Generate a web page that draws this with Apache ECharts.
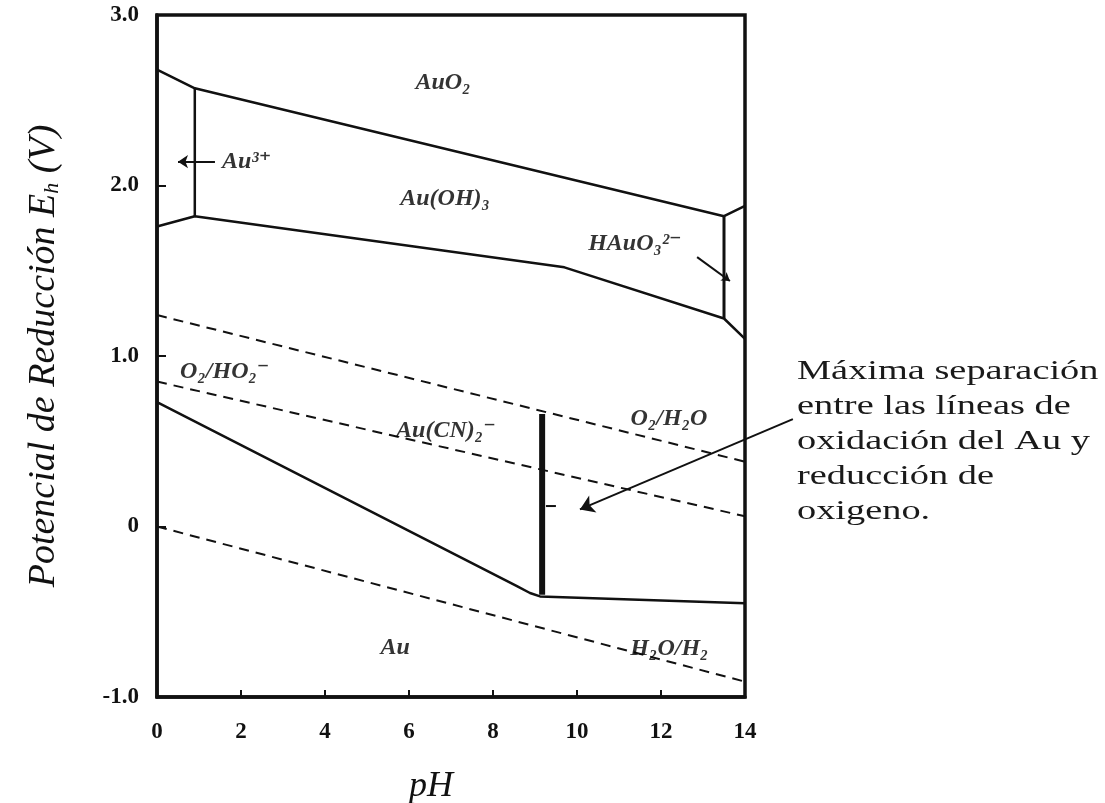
<!DOCTYPE html>
<html><head><meta charset="utf-8">
<script src="https://cdn.jsdelivr.net/npm/echarts@6/dist/echarts.min.js"></script>
<style>html,body{margin:0;padding:0;background:#fff}#c{width:1105px;height:803px}</style>
</head><body><div id="c"></div>
<script>
// ---- axes ----
const pHMin = 0, pHMax = 14, pHStep = 2;
const eMin = -1, eMax = 3, eStep = 1;
const eTickLabels = {'-1': '-1.0', '0': '0', '1': '1.0', '2': '2.0', '3': '3.0'};

// ---- boundary lines (pH, Eh) ----
const auO2Upper   = [[0, 2.68], [0.9, 2.57], [13.5, 1.82], [14, 1.88]];
const au3Divider  = [[0.9, 2.57], [0.9, 1.82]];
const auOxidation = [[0, 1.76], [0.9, 1.82], [9.7, 1.52], [13.5, 1.22], [14, 1.10]];
const hauo3Divider = [[13.5, 1.82], [13.5, 1.22]];
const auCN2       = [[0, 0.73], [8.57, -0.35], [8.88, -0.39], [9.12, -0.41], [14, -0.45]];
const maxSeparation = [[9.17, 0.66], [9.17, -0.40]];

// ---- water / oxygen lines (dashed) ----
const o2H2O = [[0, 1.24], [14, 0.38]];
const o2HO2 = [[0, 0.85], [14, 0.06]];
const h2oH2 = [[0, 0.00], [14, -0.91]];
const shortDash = [[9.26, 0.12], [9.57, 0.12]];

// ---- arrows ----
const arrowMax   = [[15.14, 0.63], [10.07, 0.10]];
const arrowAu3   = [[1.38, 2.14], [0.5, 2.14]];
const arrowHAuO3 = [[12.86, 1.58], [13.64, 1.44]];

// ---- region labels ----
const centerLabels = ['AuO₂', 'Au(OH)₃', 'HAuO₃²⁻', 'Au(CN)₂⁻', 'O₂/H₂O', 'Au', 'H₂O/H₂'];
const centerLabelPos = [[6.81, 2.60], [6.86, 1.92], [11.38, 1.66], [6.88, 0.56], [12.19, 0.63], [5.67, -0.71], [12.2, -0.72]];
const leftLabels = ['Au³⁺', 'O₂/HO₂⁻'];
const leftLabelPos = [[1.55, 2.14], [0.55, 0.91]];

const noteText = 'Máxima separación\nentre las líneas de\noxidación del Au y\nreducción de\noxigeno.';

const SERIF = '"Liberation Serif", "DejaVu Serif", serif';
const INK = '#111';

function solid(data, w) {
  return {type: 'line', data: data, symbol: 'none', silent: true, animation: false,
    lineStyle: {color: INK, width: w, type: 'solid'}, z: 3};
}
function dashed(data) {
  return {type: 'line', data: data, symbol: 'none', silent: true, animation: false,
    lineStyle: {color: INK, width: 2, type: [10, 7]}, z: 3};
}
function arrow(data, size) {
  return {type: 'lines', coordinateSystem: 'cartesian2d', clip: false, silent: true, animation: false,
    symbol: ['none', 'arrow'], symbolSize: size,
    lineStyle: {color: INK, width: 2, opacity: 1}, data: [{coords: data}], z: 4};
}
const labelStyle = {color: '#000', fontFamily: SERIF, fontStyle: 'italic', fontWeight: 'bold', fontSize: 24};

const chart = echarts.init(document.getElementById('c'), null, {renderer: 'canvas'});
chart.setOption({
  backgroundColor: '#fff',
  animation: false,
  grid: {left: 157, right: 360, top: 15, bottom: 106, containLabel: false, outerBoundsMode: 'none',
    show: true, borderColor: INK, borderWidth: 3.5, backgroundColor: 'transparent'},
  xAxis: {
    type: 'value', min: pHMin, max: pHMax, interval: pHStep,
    name: 'pH', nameLocation: 'middle', nameGap: 72,
    nameTextStyle: {fontFamily: SERIF, fontStyle: 'italic', fontSize: 36, color: INK, padding: [0, 40, 0, 0]},
    axisLine: {show: true, onZero: false, lineStyle: {color: INK, width: 3.5}},
    axisTick: {show: true, inside: true, length: 7, lineStyle: {color: INK, width: 2}},
    axisLabel: {fontFamily: SERIF, fontWeight: 'bold', fontSize: 23, color: INK, margin: 24},
    splitLine: {show: false}
  },
  yAxis: {
    type: 'value', min: eMin, max: eMax, interval: eStep,
    name: '{n|Potencial de Reducción E}{s|h}{n| (V)}', nameLocation: 'middle', nameGap: 94, nameRotate: 90,
    nameTextStyle: {rich: {
      n: {fontFamily: SERIF, fontStyle: 'italic', fontSize: 38, color: INK},
      s: {fontFamily: SERIF, fontStyle: 'italic', fontSize: 22, color: INK, padding: [16, 0, 0, 0]}
    }},
    axisLine: {show: true, onZero: false, lineStyle: {color: INK, width: 3.5}},
    axisTick: {show: true, inside: true, length: 9, lineStyle: {color: INK, width: 2}},
    axisLabel: {fontFamily: SERIF, fontWeight: 'bold', fontSize: 23, color: INK, margin: 18,
      formatter: v => eTickLabels[String(v)]},
    splitLine: {show: false}
  },
  series: [
    solid(auO2Upper, 2.5),
    solid(au3Divider, 2.5),
    solid(auOxidation, 2.5),
    solid(hauo3Divider, 3),
    solid(auCN2, 2.5),
    solid(maxSeparation, 6),
    dashed(o2H2O),
    dashed(o2HO2),
    dashed(h2oH2),
    dashed(shortDash),
    arrow(arrowMax, 14),
    arrow(arrowAu3, 10),
    arrow(arrowHAuO3, 8),
    {type: 'scatter', symbolSize: 0, silent: true, animation: false, z: 5,
      data: centerLabels.map((t, i) => ({name: t, value: centerLabelPos[i]})),
      label: Object.assign({show: true, position: 'inside', formatter: p => p.name}, labelStyle)},
    {type: 'scatter', symbolSize: 0, silent: true, animation: false, z: 5,
      data: leftLabels.map((t, i) => ({name: t, value: leftLabelPos[i]})),
      label: Object.assign({show: true, position: 'right', distance: 0, formatter: p => p.name}, labelStyle)}
  ],
  graphic: [{
    type: 'text', x: 797, y: 354, scaleX: 1.37, silent: true,
    style: {text: noteText, font: '28px ' + SERIF, lineHeight: 35, fill: '#1a1a1a', textAlign: 'left', textVerticalAlign: 'top'}
  }]
});
</script>
</body></html>
